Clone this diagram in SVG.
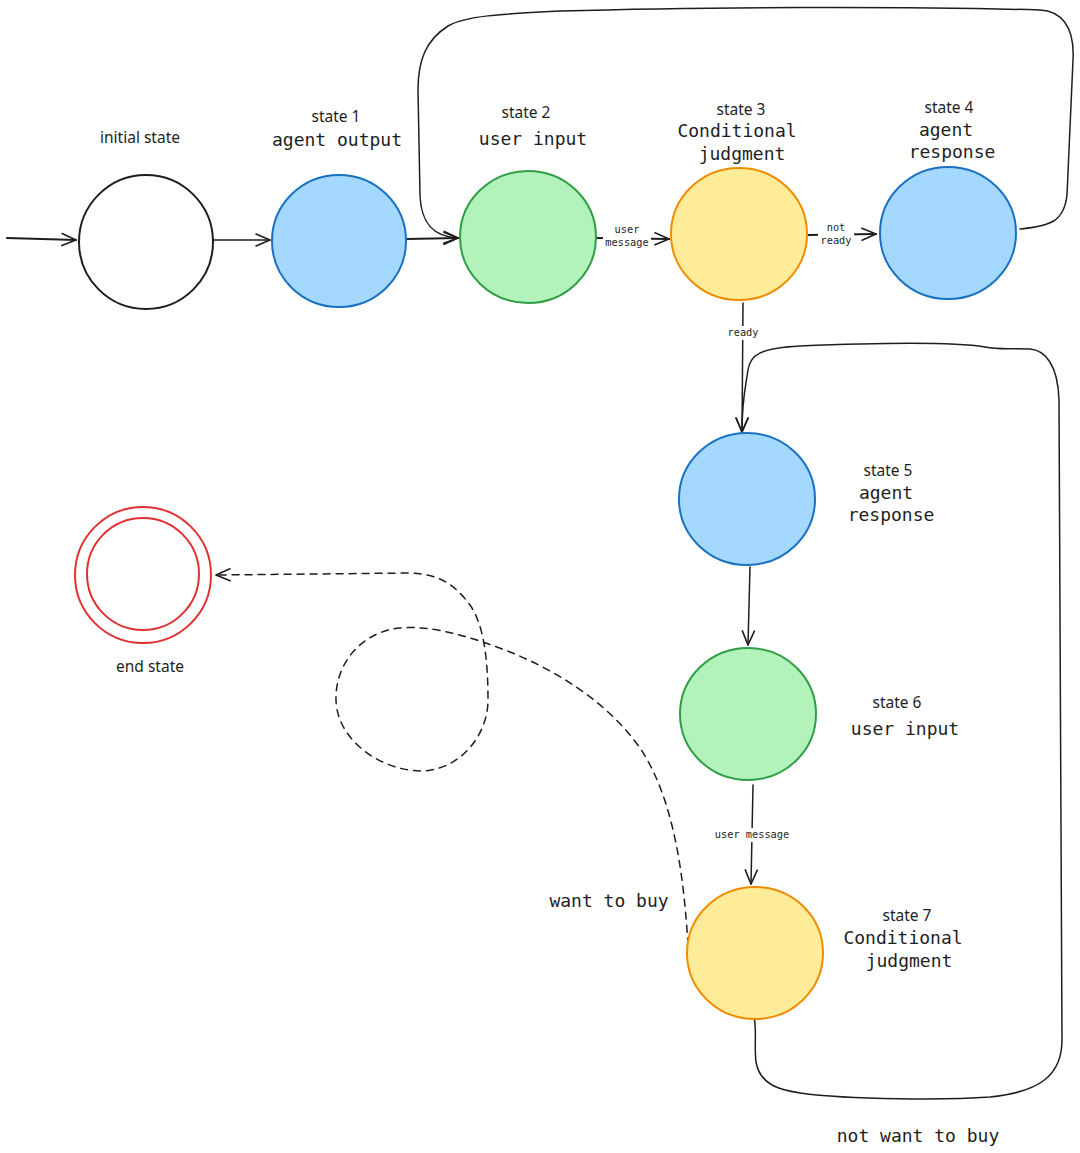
<svg xmlns="http://www.w3.org/2000/svg" width="1080" height="1153" viewBox="0 0 1080 1153">
<defs>
<style>
.bg{fill:#ffffff}
.hand{font-family:"Noto Sans","DejaVu Sans",sans-serif;font-size:15.5px;fill:#1e1e1e;text-anchor:middle}
.mono{font-family:"DejaVu Sans Mono","Liberation Mono",monospace;font-size:18px;fill:#1e1e1e;text-anchor:middle}
.lbl{font-family:"DejaVu Sans Mono","Liberation Mono",monospace;font-size:10.3px;fill:#1e1e1e;text-anchor:middle}
.blue{fill:#a5d8ff;stroke:#1971c2;stroke-width:2}
.green{fill:#b2f2bb;stroke:#2f9e44;stroke-width:2}
.yellow{fill:#ffec99;stroke:#f08c00;stroke-width:2}
.white{fill:#ffffff;stroke:#1e1e1e;stroke-width:2}
.red{fill:none;stroke:#e03131;stroke-width:2}
.edge{fill:none;stroke:#1e1e1e;stroke-width:1.5;stroke-linecap:round;stroke-linejoin:round}
.thick{stroke-width:2.2}
.dash{stroke-dasharray:7 6}
.gap{fill:#ffffff}
</style>
<marker id="arr" markerUnits="userSpaceOnUse" markerWidth="18" markerHeight="16" viewBox="0 0 18 16" refX="16" refY="8" orient="auto">
<path d="M2,2 L16,8 L2,14" fill="none" stroke="#1e1e1e" stroke-width="1.6" stroke-linecap="round" stroke-linejoin="round"/>
</marker>
</defs>
<rect class="bg" x="0" y="0" width="1080" height="1153"/>

<g id="connectors">
<path class="edge thick" d="M7,238 L76,240" marker-end="url(#arr)"/>
<path class="edge" d="M214,240 L270,240" marker-end="url(#arr)"/>
<path class="edge thick" d="M407,239 L458,238" marker-end="url(#arr)"/>
<path class="edge" d="M1020,229 C1050,226 1064,222 1067,195 L1073,60 C1075,25 1060,11 1040,10 C900,6 700,7 560,11 C500,14 465,16 448,26 C426,40 418,60 418,90 L420,195 C421,226 436,237 458,238" marker-end="url(#arr)"/>
<path class="edge thick" d="M597,238 L669,239" marker-end="url(#arr)"/>
<rect class="gap" x="603" y="223" width="48" height="26"/>
<text class="lbl" x="627" y="233">user</text>
<text class="lbl" x="627" y="246">message</text>
<path class="edge thick" d="M808,235 L876,234" marker-end="url(#arr)"/>
<rect class="gap" x="818" y="221" width="36" height="26"/>
<text class="lbl" x="836" y="231">not</text>
<text class="lbl" x="836" y="244">ready</text>
<path class="edge" d="M743,303 L742,432" marker-end="url(#arr)"/>
<rect class="gap" x="725" y="326" width="36" height="14"/>
<text class="lbl" x="743" y="336">ready</text>
<path class="edge" d="M754,1017 C757,1030 754,1045 756,1062 C760,1085 780,1090 800,1093 C850,1100 950,1100 990,1097 C1040,1092 1062,1075 1062,1040 L1059,400 C1058,365 1045,350 1030,349 C1010,348 1000,350 985,347 C960,343 900,342 800,346 C760,348 750,355 748,370 C745,390 742,400 742,432" marker-end="url(#arr)"/>
<path class="edge" d="M750,567 L748,645" marker-end="url(#arr)"/>
<path class="edge" d="M753,785 L751,884" marker-end="url(#arr)"/>
<rect class="gap" x="713" y="828" width="80" height="14"/>
<text class="lbl" x="752" y="838">user message</text>
<path class="edge dash" d="M688,945 C684,880 675,800 640,748 C610,705 560,672 510,652 C470,636 430,625 400,628 C360,632 335,665 336,700 C337,740 380,770 420,771 C460,771 488,735 488,700 C488,660 484,625 470,605 C455,585 440,574 410,573 L216,575" marker-end="url(#arr)"/>
</g>

<g id="initial">
<circle class="white" cx="146" cy="242" r="67"/>
<text class="hand" x="140" y="143">initial state</text>
</g>
<g id="state1">
<ellipse class="blue" cx="339" cy="241" rx="67" ry="66"/>
<text class="hand" x="336" y="122">state 1</text>
<text class="mono" x="337" y="146">agent output</text>
</g>
<g id="state2">
<ellipse class="green" cx="528" cy="237" rx="68" ry="66"/>
<text class="hand" x="526" y="118">state 2</text>
<text class="mono" x="533" y="145">user input</text>
</g>
<g id="state3">
<ellipse class="yellow" cx="739" cy="234" rx="68" ry="66"/>
<text class="hand" x="741" y="115">state 3</text>
<text class="mono" x="737" y="137">Conditional</text>
<text class="mono" x="742" y="160">judgment</text>
</g>
<g id="state4">
<ellipse class="blue" cx="948" cy="233" rx="68" ry="66"/>
<text class="hand" x="949" y="113">state 4</text>
<text class="mono" x="946" y="136">agent</text>
<text class="mono" x="952" y="158">response</text>
</g>
<g id="state5">
<ellipse class="blue" cx="747" cy="499" rx="68" ry="66"/>
<text class="hand" x="888" y="476">state 5</text>
<text class="mono" x="886" y="499">agent</text>
<text class="mono" x="891" y="521">response</text>
</g>
<g id="state6">
<ellipse class="green" cx="748" cy="714" rx="68" ry="66"/>
<text class="hand" x="897" y="708">state 6</text>
<text class="mono" x="905" y="735">user input</text>
</g>
<g id="state7">
<ellipse class="yellow" cx="755" cy="953" rx="68" ry="66"/>
<text class="hand" x="907" y="921">state 7</text>
<text class="mono" x="903" y="944">Conditional</text>
<text class="mono" x="909" y="967">judgment</text>
</g>
<g id="end">
<circle class="red" cx="143" cy="575" r="68"/>
<circle class="red" cx="143" cy="574" r="56"/>
<text class="hand" x="150" y="672">end state</text>
</g>
<g id="labels">
<text class="mono" x="609" y="907">want to buy</text>
<text class="mono" x="918" y="1142">not want to buy</text>
</g>
</svg>
